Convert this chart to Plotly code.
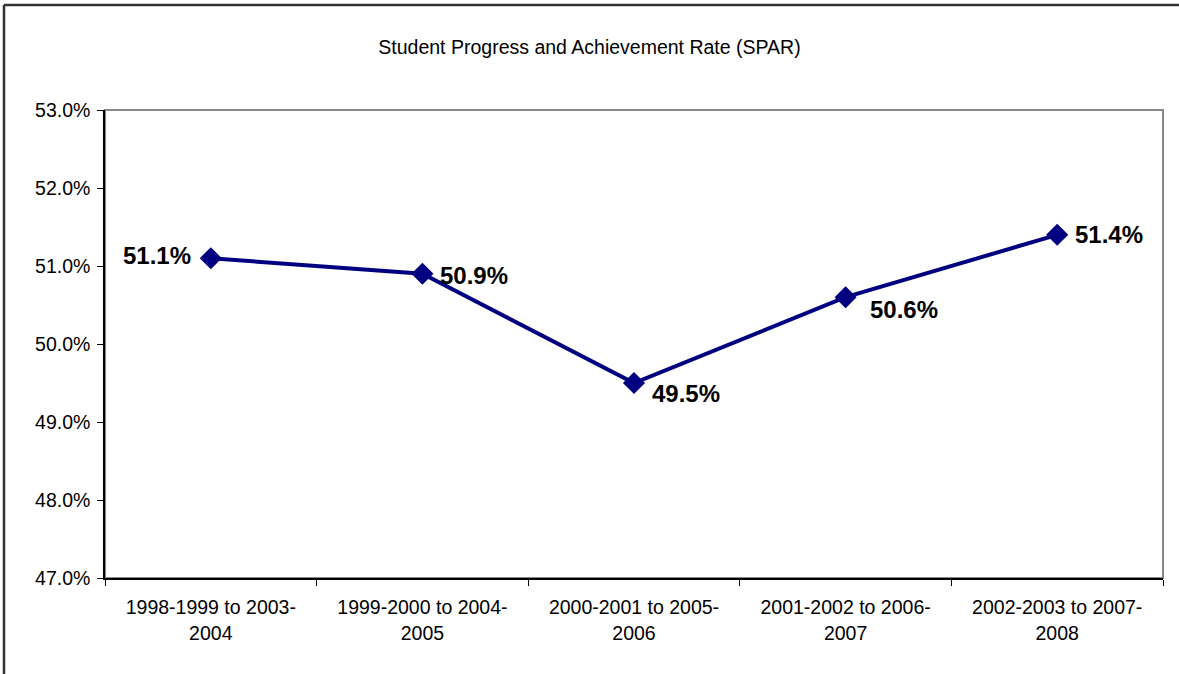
import plotly.graph_objects as go

categories = ["1998-1999 to 2003-<br>2004", "1999-2000 to 2004-<br>2005", "2000-2001 to 2005-<br>2006",
              "2001-2002 to 2006-<br>2007", "2002-2003 to 2007-<br>2008"]
spar = [0.511, 0.509, 0.495, 0.506, 0.514]
labels = ["51.1%", "50.9%", "49.5%", "50.6%", "51.4%"]
y_ticks = [0.47, 0.48, 0.49, 0.50, 0.51, 0.52, 0.53]

# label placement styles (anchor, xshift, yshift)
label_style = [("right", -18, 3), ("left", 16, -2), ("left", 16, -10), ("left", 22, -12), ("left", 16, 0)]

W, H = 1179, 674
ml, mr, mt, mb = 105, 16, 110, 96
pw, ph = W - ml - mr, H - mt - mb
FONT = "Liberation Sans, Arial, sans-serif"

fig = go.Figure()
fig.add_trace(go.Scatter(
    x=categories, y=spar, mode="lines+markers",
    line=dict(color="#000080", width=4),
    marker=dict(symbol="diamond", size=17, color="#000080"),
    cliponaxis=False, showlegend=False, hoverinfo="skip"))

annotations = []
for c, v, t, (anc, xs, ys) in zip(categories, spar, labels, label_style):
    annotations.append(dict(x=c, y=v, xref="x", yref="y", text="<b>" + t + "</b>", showarrow=False,
                            xanchor=anc, yanchor="middle", xshift=xs, yshift=ys,
                            font=dict(family=FONT, size=24, color="black")))

fig.update_layout(
    width=W, height=H,
    margin=dict(l=ml, r=mr, t=mt, b=mb),
    paper_bgcolor="white", plot_bgcolor="white",
    font=dict(family=FONT, size=19.5, color="black"),
    title=dict(text="Student Progress and Achievement Rate (SPAR)", x=0.5, xanchor="center",
               y=1 - 47 / H, yanchor="middle", font=dict(size=19.5)),
    xaxis=dict(type="category", tickson="boundaries", ticks="outside", ticklen=6,
               tickcolor="black", showline=True, linecolor="black", linewidth=1.5,
               showgrid=False, zeroline=False, range=[-0.5, 4.5], tickfont=dict(size=19.5),
               ticklabelstandoff=11),
    yaxis=dict(range=[0.47, 0.53], tickvals=y_ticks, tickformat=".1%", ticks="outside",
               ticklen=6, tickcolor="black", showline=True, linecolor="black", linewidth=1.5,
               showgrid=False, zeroline=False, tickfont=dict(size=19.5), ticklabelstandoff=3),
    annotations=annotations,
    shapes=[
        dict(type="rect", xref="paper", yref="paper", x0=0, x1=1, y0=0, y1=1,
             line=dict(color="#888888", width=2), layer="below"),
        dict(type="line", xref="paper", yref="paper", x0=(4 - ml) / pw, x1=(4 - ml) / pw,
             y0=(H - mb - 5) / ph, y1=-(mb + 10) / ph, line=dict(color="#333333", width=2.5)),
        dict(type="line", xref="paper", yref="paper", x0=(4 - ml) / pw, x1=(W + 10 - ml) / pw,
             y0=(H - mb - 5) / ph, y1=(H - mb - 5) / ph, line=dict(color="#333333", width=2.5)),
    ],
)

fig.write_html("out.html", config={"displayModeBar": False},
               post_script="document.body.style.margin='0px';document.body.style.overflow='hidden';")
